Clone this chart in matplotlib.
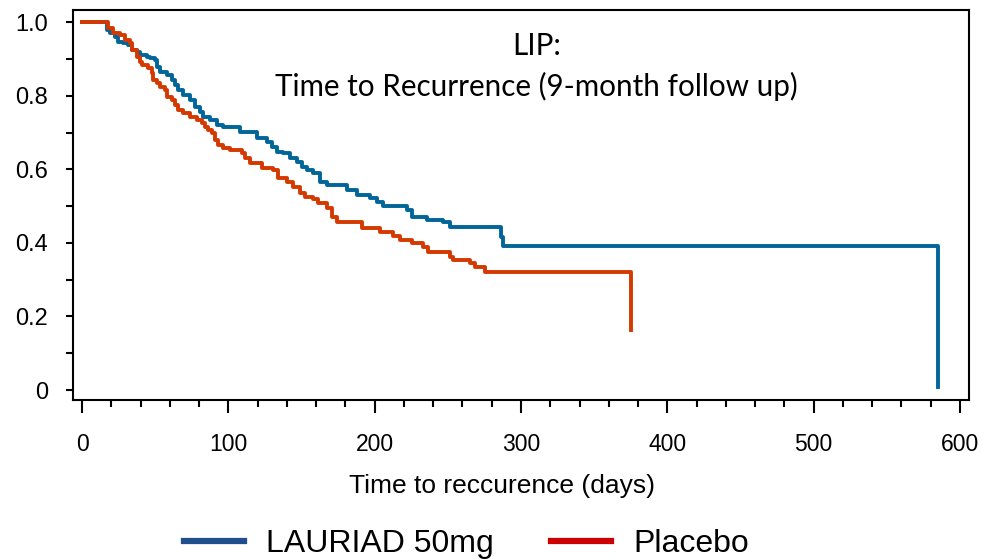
import matplotlib
matplotlib.use("Agg")
import matplotlib.pyplot as plt
from matplotlib.ticker import MultipleLocator
from matplotlib.lines import Line2D

# Kaplan-Meier step data (days, survival after step)
lauriad_days = [0, 17.1, 19.1, 22.6, 24.6, 28.0, 31.4, 34.2, 37.6, 39.6, 44.4, 46.5, 49.9,
                51.3, 53.3, 58.1, 61.5, 63.6, 65.6, 69.0, 73.8, 77.2, 80.7, 82.7, 87.5,
                92.3, 96.4, 108.0, 119.6, 126.4, 129.8, 133.3, 137.4, 142.1, 146.9, 150.3,
                153.8, 157.9, 162.7, 167.5, 181.1, 187.9, 196.8, 201.6, 205.7, 222.1, 225.5,
                235.8, 246.7, 251.5, 286.3, 287.7, 585.0]
lauriad_surv = [1.0, 0.978, 0.970, 0.959, 0.946, 0.943, 0.938, 0.924, 0.918, 0.910, 0.905,
                0.902, 0.897, 0.878, 0.864, 0.856, 0.842, 0.829, 0.815, 0.802, 0.788, 0.769,
                0.755, 0.742, 0.734, 0.720, 0.715, 0.701, 0.685, 0.674, 0.660, 0.647, 0.644,
                0.630, 0.620, 0.606, 0.598, 0.590, 0.565, 0.557, 0.543, 0.530, 0.522, 0.511,
                0.500, 0.489, 0.470, 0.462, 0.457, 0.443, 0.416, 0.391, 0.008]

placebo_days = [0, 17.8, 21.2, 26.0, 29.4, 32.8, 34.2, 37.6, 39.6, 41.0, 45.1, 47.8, 48.5,
                51.3, 53.3, 56.7, 58.1, 61.5, 63.6, 65.6, 69.0, 73.8, 78.6, 82.0, 84.1, 86.1,
                88.8, 90.9, 92.9, 96.4, 101.1, 109.3, 111.4, 114.8, 123.0, 130.5, 133.9,
                140.1, 144.2, 149.0, 152.4, 157.9, 161.3, 167.5, 170.8, 174.3, 191.3, 203.6,
                212.5, 217.3, 225.5, 233.0, 236.5, 251.5, 253.5, 265.2, 268.6, 275.4, 375.5]
placebo_surv = [1.0, 0.984, 0.970, 0.965, 0.951, 0.943, 0.924, 0.905, 0.891, 0.883, 0.875,
                0.861, 0.842, 0.834, 0.823, 0.815, 0.796, 0.788, 0.774, 0.761, 0.753, 0.742,
                0.734, 0.726, 0.715, 0.707, 0.698, 0.679, 0.666, 0.658, 0.652, 0.644, 0.630,
                0.617, 0.603, 0.598, 0.576, 0.565, 0.552, 0.535, 0.524, 0.519, 0.508, 0.495,
                0.470, 0.457, 0.440, 0.429, 0.418, 0.408, 0.399, 0.389, 0.375, 0.361, 0.353,
                0.345, 0.334, 0.321, 0.163]

series_names = ["LAURIAD 50mg", "Placebo"]
x_ticks = [0, 100, 200, 300, 400, 500, 600]
y_ticks = [0, 0.2, 0.4, 0.6, 0.8, 1.0]
y_tick_labels = ["0", "0.2", "0.4", "0.6", "0.8", "1.0"]
title_lines = ["LIP:", "Time to Recurrence (9-month follow up)"]
x_label = "Time to reccurence (days)"

plt.rcParams['font.family'] = ['Liberation Sans', 'DejaVu Sans']

fig = plt.figure(figsize=(9.84, 5.59), dpi=100)
ax = fig.add_axes([73/984, 1 - 400/559, (969-73)/984, (400-10)/559])

ax.step(lauriad_days, lauriad_surv, where='post', color='#006699', lw=2.8, zorder=2)
ax.step(placebo_days, placebo_surv, where='post', color='#d43a00', lw=2.8, zorder=3)

ax.set_xlim(-6.2, 606.2)
ax.set_ylim(-0.027, 1.033)

ax.set_xticks(x_ticks)
ax.xaxis.set_minor_locator(MultipleLocator(20))
ax.set_yticks(y_ticks)
ax.set_yticklabels(y_tick_labels)
ax.yaxis.set_minor_locator(MultipleLocator(0.1))

ax.tick_params(axis='x', which='major', length=9, width=1.5, direction='out',
               labelsize=16.5, pad=15)
ax.tick_params(axis='x', which='minor', length=5, width=1.5, direction='out')
ax.tick_params(axis='y', which='both', length=5, width=1.5, direction='out',
               labelsize=17, pad=13)
for sp in ax.spines.values():
    sp.set_linewidth(1.5)
    sp.set_color('black')

ax.set_xlabel(x_label, fontsize=19)
ax.xaxis.set_label_coords((502-73)/896, (400-486)/390)
ax.xaxis.label.set_va('center')

ax.text(0.517, (400-46)/390, title_lines[0], transform=ax.transAxes,
        ha='center', va='center', fontsize=21.3, family=['Lato', 'DejaVu Sans'])
ax.text(0.517, (400-86)/390, title_lines[1], transform=ax.transAxes,
        ha='center', va='center', fontsize=21.3, family=['Lato', 'DejaVu Sans'])

handles = [Line2D([], [], color='#1f4e8c', lw=4.5),
           Line2D([], [], color='#cc0000', lw=4.5)]
fig.legend(handles, series_names, loc='center', bbox_to_anchor=(0.474, 1 - 544/559),
           ncol=2, frameon=False, fontsize=23, handlelength=1.88, handletextpad=0.69,
           columnspacing=1.78)

fig.savefig("out.png", dpi=100)
